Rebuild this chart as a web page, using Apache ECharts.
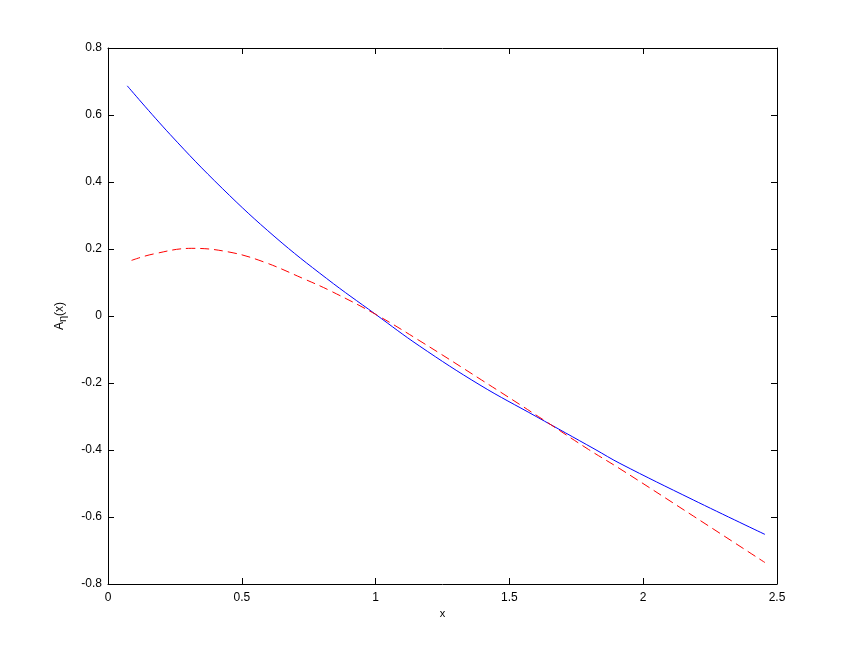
<!DOCTYPE html>
<html>
<head>
<meta charset="utf-8">
<script src="https://cdn.jsdelivr.net/npm/echarts@6/dist/echarts.min.js"></script>
<style>
  html, body { margin: 0; padding: 0; background: #fff; }
  #chart { width: 858px; height: 657px; }
</style>
</head>
<body>
<div id="chart"></div>
<script>
// values
const blueX = [0.072, 0.232, 0.427, 0.624, 0.817, 1.0, 1.163, 1.39, 1.60, 1.82, 1.913, 2.187, 2.455]
const blueY = [0.687, 0.542, 0.381, 0.236, 0.112, 0.005, -0.089, -0.206, -0.30, -0.398, -0.44, -0.549, -0.652]

const redX = [0.088, 0.169, 0.313, 0.452, 0.580, 0.736, 0.83, 1.0, 1.166, 1.396, 1.608, 1.795, 1.913, 2.187, 2.455]
const redY = [0.166, 0.185, 0.202, 0.191, 0.162, 0.1095, 0.0755, 0.005, -0.0746, -0.191, -0.30, -0.398, -0.456, -0.597, -0.736]

const xTicks = { min: 0, max: 2.5, interval: 0.5 }
const yTicks = { min: -0.8, max: 0.8, interval: 0.2 }

function pairs(xs, ys) {
  return xs.map((x, i) => [x, ys[i]])
}

const chart = echarts.init(document.getElementById('chart'))

const axisFont = { color: '#000', fontSize: 12, fontFamily: 'Liberation Sans, Arial, sans-serif' }
const frameLine = { show: true, onZero: false, lineStyle: { color: '#000', width: 1 } }
const tickIn = { show: true, inside: true, length: 6, lineStyle: { color: '#000', width: 1 } }

chart.setOption({
  animation: false,
  backgroundColor: '#fff',
  grid: { left: 108, right: 81, top: 48, bottom: 73 },
  xAxis: [
    {
      type: 'value',
      ...xTicks,
      position: 'bottom',
      axisLine: frameLine,
      axisTick: tickIn,
      splitLine: { show: false },
      axisLabel: { ...axisFont, margin: 8, formatter: v => String(v) },
      name: 'x',
      nameLocation: 'middle',
      nameGap: 23,
      nameTextStyle: { ...axisFont, fontSize: 11 },
    },
    {
      type: 'value',
      ...xTicks,
      position: 'top',
      axisLine: frameLine,
      axisTick: tickIn,
      splitLine: { show: false },
      axisLabel: { show: false },
    },
  ],
  yAxis: [
    {
      type: 'value',
      ...yTicks,
      position: 'left',
      axisLine: frameLine,
      axisTick: tickIn,
      splitLine: { show: false },
      axisLabel: {
        ...axisFont,
        margin: 6,
        formatter: v => (Math.abs(v) < 1e-9 ? '0' : String(Math.round(v * 10) / 10)),
      },
      name: 'A{sub|η}(x)',
      nameLocation: 'middle',
      nameGap: 40,
      nameRotate: 90,
      nameTextStyle: {
        ...axisFont,
        fontSize: 12,
        rich: {
          sub: { fontSize: 11, color: '#000', padding: [6, 0, 0, 0], fontFamily: 'Liberation Sans, Arial, sans-serif' },
        },
      },
    },
    {
      type: 'value',
      ...yTicks,
      position: 'right',
      axisLine: frameLine,
      axisTick: tickIn,
      splitLine: { show: false },
      axisLabel: { show: false },
    },
  ],
  series: [
    {
      type: 'line',
      data: pairs(blueX, blueY),
      smooth: 0.4,
      symbol: 'none',
      lineStyle: { color: '#0000ff', width: 1 },
    },
    {
      type: 'line',
      data: pairs(redX, redY),
      smooth: 0.4,
      symbol: 'none',
      lineStyle: { color: '#ff0000', width: 1, type: [9, 5] },
    },
  ],
})
</script>
</body>
</html>
